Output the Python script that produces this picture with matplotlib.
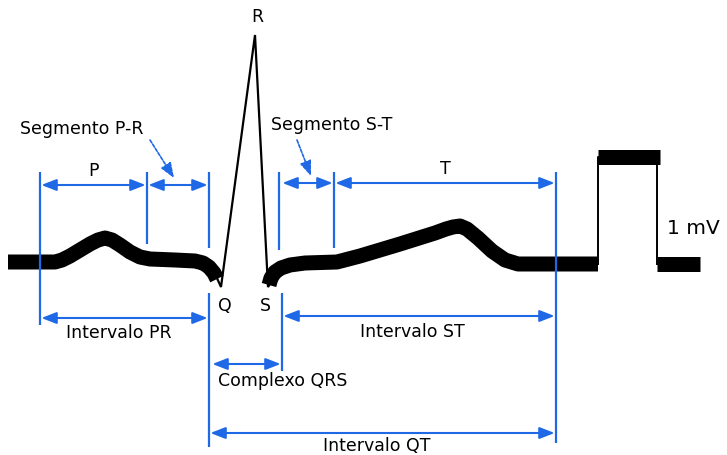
import matplotlib.pyplot as plt

# ECG trace (x to the right, y downward as in the image)
left_x = [8, 55, 62, 70, 80, 90, 98, 105, 112, 120, 130, 140, 150, 175, 195, 203, 209, 214, 217]
left_y = [262, 262, 260, 256, 250, 244, 240, 238, 240, 245, 252, 257, 259, 260, 261, 263, 267, 273, 279]

spike_x = [216, 221, 255, 268, 270]
spike_y = [276, 287, 35, 287, 284]

right_x = [269, 271, 275, 281, 290, 305, 337, 360, 400, 435, 446, 453, 460, 467, 478, 492, 505, 518, 598]
right_y = [285, 278, 272, 268, 265, 263, 262, 256, 244, 233, 229, 227, 226, 229, 238, 251, 260, 264, 264]

# 1 mV calibration pulse
cal_x = [598, 598, 657, 657]
cal_y = [264, 157, 157, 264]
cal_bar_x = [598, 660]
cal_tail_x = [657, 700]

# wave boundaries
p_start, p_end, q_on, s_end, t_start, t_end = 40, 147, 209, 281, 334, 556

# short arrows above the trace: (x0, x1, y, label)
upper = [(p_start, p_end, 185, "P"),
         (p_end, q_on, 185, ""),
         (s_end, t_start, 183, ""),
         (t_start, t_end, 183, "T")]

# interval arrows below the trace: (x0, x1, y, label)
lower = [(p_start, q_on, 318, "Intervalo PR"),
         (s_end + 1, t_end, 316, "Intervalo ST"),
         (q_on + 2, s_end + 1, 364, "Complexo QRS"),
         (q_on, t_end, 433, "Intervalo QT")]

blue = "#1f68e6"
black = "black"

fig = plt.figure(figsize=(7.27, 4.55), dpi=100)
ax = fig.add_axes([0, 0, 1, 1])
ax.set_xlim(0, 727)
ax.set_ylim(455, 0)
ax.axis("off")

thick = 10.8
ax.plot(left_x, left_y, color=black, lw=thick, solid_capstyle="butt", solid_joinstyle="round")
ax.plot(spike_x, spike_y, color=black, lw=1.6, solid_joinstyle="miter")
ax.plot(right_x, right_y, color=black, lw=thick, solid_capstyle="butt", solid_joinstyle="round")
ax.plot(cal_x, cal_y, color=black, lw=1.4)
ax.plot(cal_bar_x, [cal_y[1]] * 2, color=black, lw=10.8, solid_capstyle="butt")
ax.plot(cal_tail_x, [cal_y[0]] * 2, color=black, lw=thick, solid_capstyle="butt")

# blue vertical markers
ax.vlines([p_start, p_end, q_on, s_end - 2, t_start], 172, [325, 244, 248, 250, 248], color=blue, lw=1.6)
ax.vlines(t_end, 172, 443, color=blue, lw=1.6)
ax.vlines(q_on, 293, 447, color=blue, lw=1.6)
ax.vlines(s_end + 1, 293, 371, color=blue, lw=1.6)

style = "<|-|>,head_length=0.9,head_width=0.35"
for x0, x1, y, lab in upper:
    ax.annotate("", xy=(x1, y), xytext=(x0, y),
                arrowprops=dict(arrowstyle=style, color=blue, lw=1.5, shrinkA=1, shrinkB=1))
    if lab:
        ax.text((x0 + x1) / 2, y - 14, lab, ha="center", va="center", fontsize=12.5)

for x0, x1, y, lab in lower:
    ax.annotate("", xy=(x1, y), xytext=(x0, y),
                arrowprops=dict(arrowstyle=style, color=blue, lw=1.5, shrinkA=1, shrinkB=1))

ax.text(119, 333, "Intervalo PR", ha="center", va="center", fontsize=12.5)
ax.text(412, 332, "Intervalo ST", ha="center", va="center", fontsize=12.5)
ax.text(283, 381, "Complexo QRS", ha="center", va="center", fontsize=12.5)
ax.text(377, 446, "Intervalo QT", ha="center", va="center", fontsize=12.5)

# pointer labels for the segments
ax.text(82, 129, "Segmento P-R", ha="center", va="center", fontsize=12.5)
ax.annotate("", xy=(174, 178), xytext=(150, 140),
            arrowprops=dict(arrowstyle="-|>,head_length=0.9,head_width=0.35", color=blue,
                            lw=1.2, ls=(0, (2, 1)), shrinkA=0, shrinkB=0))
ax.text(332, 125, "Segmento S-T", ha="center", va="center", fontsize=12.5)
ax.annotate("", xy=(311, 176), xytext=(297, 140),
            arrowprops=dict(arrowstyle="-|>,head_length=0.9,head_width=0.35", color=blue,
                            lw=1.2, ls=(0, (2, 1)), shrinkA=0, shrinkB=0))

ax.text(257, 17, "R", ha="center", va="center", fontsize=12.5)
ax.text(225, 306, "Q", ha="center", va="center", fontsize=12.5)
ax.text(265, 306, "S", ha="center", va="center", fontsize=12.5)
ax.text(667, 228, "1 mV", ha="left", va="center", fontsize=14.5)

fig.savefig("out.png", dpi=100)
